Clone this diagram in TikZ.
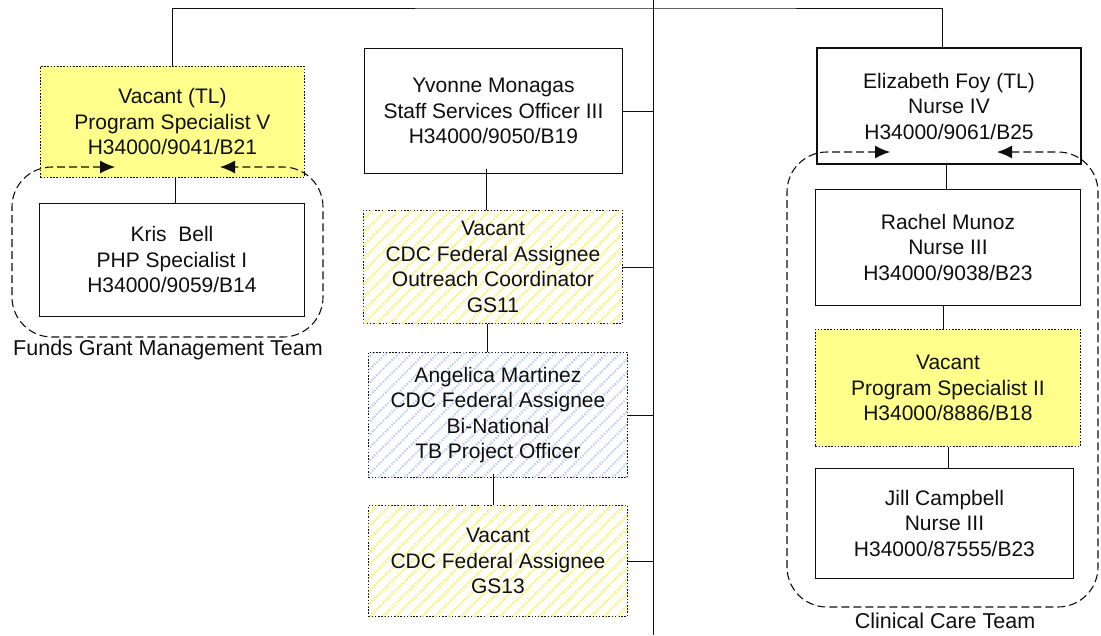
\documentclass[tikz,border=0pt]{standalone}
\usepackage{fontspec}
\setmainfont{Liberation Sans}
\usetikzlibrary{arrows.meta,patterns.meta,calc}
\definecolor{vacyel}{RGB}{255,255,140}
\definecolor{hatchyel}{RGB}{248,243,120}
\definecolor{hatchblue}{RGB}{190,208,236}
\definecolor{inkc}{RGB}{15,15,15}
\tikzset{
  box/.style={draw=inkc, line width=0.9pt, anchor=north west, inner sep=0pt,
    align=center, text=inkc, font=\fontsize{21}{25.5}\selectfont},
  solidbox/.style={box, fill=white},
  vacbox/.style={box, fill=vacyel, dash pattern=on 1.6pt off 1.6pt},
  yhatch/.style={box, fill=white, dash pattern=on 1.6pt off 1.6pt,
    postaction={pattern={Lines[angle=45,distance=9.2pt,line width=2.6pt]}, pattern color=hatchyel}},
  bhatch/.style={box, fill=white, dash pattern=on 1.6pt off 1.6pt,
    postaction={pattern={Lines[angle=45,distance=9.2pt,line width=2.2pt]}, pattern color=hatchblue}},
  link/.style={draw=inkc, line width=0.9pt},
  team/.style={draw=inkc, line width=1.1pt, dash pattern=on 8pt off 4pt, rounded corners=40pt},
  tip/.style={draw=inkc, fill=inkc, line width=1.1pt, solid, -{Latex[length=15pt,width=13pt]}},
  teamlabel/.style={text=inkc, font=\fontsize{21.5}{25}\selectfont, inner sep=0pt}
}
\begin{document}
\begin{tikzpicture}[x=1pt,y=-1pt]
\useasboundingbox (0,0) rectangle (1101,635);
% trunk
\coordinate (trunkTop) at (653,0);
\coordinate (trunkBot) at (653,635);
\coordinate (bus) at (653,8);
\draw[link] (trunkTop) -- (trunkBot);

% left column
\node[vacbox, minimum width=264pt, minimum height=111pt] (vtl) at (40,66)
  {Vacant (TL)\\Program Specialist V\\H34000/9041/B21};
\node[solidbox, minimum width=265pt, minimum height=113pt] (kris) at (39,203)
  {Kris\ \ Bell\\PHP Specialist I\\H34000/9059/B14};
\draw[link] ([xshift=3pt]vtl.south) -- ([xshift=3pt]vtl.south |- kris.north);

% middle column
\node[solidbox, minimum width=258pt, minimum height=125pt] (yvonne) at (364,48)
  {Yvonne Monagas\\Staff Services Officer III\\H34000/9050/B19};
\node[yhatch, minimum width=259pt, minimum height=113pt] (cdc1) at (363,210)
  {Vacant\\CDC Federal Assignee\\Outreach Coordinator\\GS11};
\node[bhatch, minimum width=259pt, minimum height=125pt] (amart) at (368,352)
  {Angelica Martinez\\CDC Federal Assignee\\Bi-National\\TB Project Officer};
\node[yhatch, minimum width=259pt, minimum height=111pt] (cdc2) at (368,505)
  {Vacant\\CDC Federal Assignee\\GS13};
\draw[link] ([xshift=-7pt]yvonne.south) ++(0,5pt) -- ([xshift=-7pt]yvonne.south |- cdc1.north);
\draw[link] ([xshift=-6pt]cdc1.south) -- ([xshift=-6pt]cdc1.south |- amart.north);
\draw[link] ([xshift=-5pt]amart.south) ++(0,4pt) -- ([xshift=-5pt]amart.south |- cdc2.north);
\draw[link] (yvonne.east) -- (yvonne.east -| trunkTop);
\draw[link] (cdc1.east) -- (cdc1.east -| trunkTop);
\draw[link] (amart.east) -- (amart.east -| trunkTop);
\draw[link] (cdc2.east) -- (cdc2.east -| trunkTop);

% right column
\node[solidbox, line width=2pt, minimum width=264pt, minimum height=116pt] (efoy) at (816,47)
  {Elizabeth Foy (TL)\\Nurse IV\\H34000/9061/B25};
\node[solidbox, minimum width=265pt, minimum height=116pt] (rachel) at (815,189)
  {Rachel Munoz\\Nurse III\\H34000/9038/B23};
\node[vacbox, minimum width=265pt, minimum height=117pt] (vps2) at (815,329)
  {Vacant\\Program Specialist II\\H34000/8886/B18};
\node[solidbox, minimum width=258pt, minimum height=110pt] (jill) at (815,468)
  {Jill Campbell\\Nurse III\\H34000/87555/B23};
\draw[link] ([xshift=-3pt]efoy.south) -- ([xshift=-3pt]efoy.south |- rachel.north);
\draw[link] ([xshift=-5pt]rachel.south) -- ([xshift=-5pt]rachel.south |- vps2.north);
\draw[link] (vps2.south) -- (vps2.south |- jill.north);

% top bus
\draw[link] (vtl.north -| 172,0) |- (bus) -| ([xshift=-7pt]efoy.north);

% team frames
\coordinate (fgA) at (115,167);
\coordinate (fgB) at (220,167);
\draw[team] ([xshift=-14pt]fgA) -- (12,167) -- (12,337) -- (323,337) -- (323,167) -- ([xshift=14pt]fgB);
\draw[tip] ([xshift=-15pt]fgA) -- (fgA);
\draw[tip] ([xshift=15pt]fgB) -- (fgB);
\node[teamlabel] (fglabel) at (168,350) {Funds Grant Management Team};

\coordinate (ccA) at (890,152);
\coordinate (ccB) at (997,152);
\draw[team] ([xshift=-14pt]ccA) -- (787,152) -- (787,607) -- (1098,607) -- (1098,152) -- ([xshift=14pt]ccB);
\draw[tip] ([xshift=-15pt]ccA) -- (ccA);
\draw[tip] ([xshift=15pt]ccB) -- (ccB);
\node[teamlabel] (cclabel) at (945,621) {Clinical Care Team};
\end{tikzpicture}
\end{document}
